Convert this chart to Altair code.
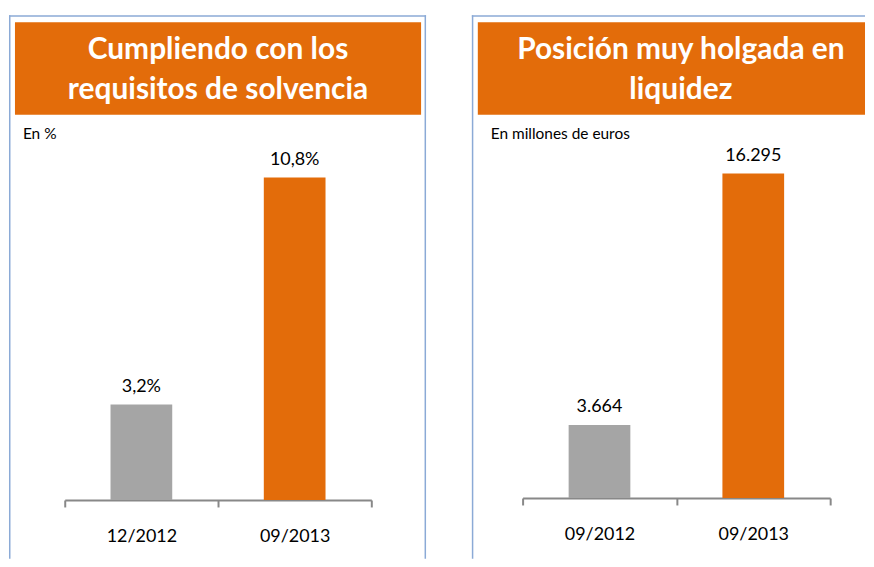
import altair as alt
import pandas as pd

# ---- data ----
left_categories = ["12/2012", "09/2013"]
left_values = [3.2, 10.8]
left_labels = ["3,2%", "10,8%"]

right_categories = ["09/2012", "09/2013"]
right_values = [3664, 16295]
right_labels = ["3.664", "16.295"]

left_title = ["Cumpliendo con los", "requisitos de solvencia"]
right_title = ["Posición muy holgada en", "liquidez"]
left_sub = "En %"
right_sub = "En millones de euros"

ORANGE = "#E36C0A"
GRAY = "#A5A5A5"
BLUE = "#8BAAD6"
FONT = "Lato"
one = pd.DataFrame({"k": [0]})


def panel(cats, vals, labels, title_lines, sub, W, H, box_x2, xrange, yrange, ydom,
          axis_offset, right_border):
    df = pd.DataFrame({"cat": cats, "val": vals, "lab": labels})
    layers = []
    # border
    layers.append(alt.Chart(one).mark_rule(color=BLUE, strokeWidth=1.5).encode(
        x=alt.value(0.75), y=alt.value(0), y2=alt.value(H)))
    layers.append(alt.Chart(one).mark_rule(color=BLUE, strokeWidth=1.5).encode(
        x=alt.value(0), x2=alt.value(W), y=alt.value(0.75)))
    if right_border:
        layers.append(alt.Chart(one).mark_rule(color=BLUE, strokeWidth=1.5).encode(
            x=alt.value(W - 0.75), y=alt.value(0), y2=alt.value(H)))
    # title box
    layers.append(alt.Chart(one).mark_rect(color=ORANGE).encode(
        x=alt.value(6), x2=alt.value(box_x2), y=alt.value(7), y2=alt.value(100)))
    for i, yy in enumerate([44, 84]):
        layers.append(alt.Chart(one).mark_text(
            font=FONT, fontSize=30, fontWeight="bold", color="white", align="center",
            baseline="alphabetic").encode(
            x=alt.value(210), y=alt.value(yy), text=alt.value(title_lines[i])))
    # subtitle
    layers.append(alt.Chart(one).mark_text(
        font=FONT, fontSize=15.5, color="black", align="left",
        baseline="alphabetic").encode(
        x=alt.value(sub[1]), y=alt.value(124), text=alt.value(sub[0])))

    xenc = alt.X("cat:N", sort=cats, title=None,
                 scale=alt.Scale(range=xrange, paddingInner=0, paddingOuter=0),
                 axis=alt.Axis(labelAngle=0, labelFont=FONT, labelFontSize=18,
                               labelColor="black", labelPadding=30,
                               labelBaseline="middle",
                               domainColor="#888888", domainWidth=2,
                               tickColor="#888888", tickWidth=2, tickSize=7,
                               tickBand="extent", offset=axis_offset,
                               grid=False))
    yenc = alt.Y("val:Q", axis=None,
                 scale=alt.Scale(domain=ydom, range=yrange, nice=False, zero=True))
    base = alt.Chart(df)
    layers.append(base.mark_bar(size=62).encode(
        x=xenc, y=yenc,
        color=alt.Color("cat:N", scale=alt.Scale(domain=cats, range=[GRAY, ORANGE]),
                        legend=None)))
    layers.append(base.mark_text(font=FONT, fontSize=18, color="black",
                                 baseline="alphabetic", dy=-13).encode(
        x=alt.X("cat:N", sort=cats), y=alt.Y("val:Q"), text="lab:N"))
    return alt.layer(*layers).properties(width=W, height=H)


H = 546
left = panel(left_categories, left_values, left_labels, left_title, (left_sub, 14),
             419, H, 414, [56, 364], [487, 187], [0, 10], 487 - H, True)
right = panel(right_categories, right_values, right_labels, right_title, (right_sub, 19),
              395, H, 395, [51, 360], [485, 285], [0, 10000], 485 - H, False)

chart = alt.hconcat(left, right, spacing=44).resolve_scale(
    x="independent", y="independent", color="independent"
).properties(
    padding={"top": 5, "left": 0, "right": 0, "bottom": 0}
).configure(background="white").configure_view(stroke=None)

chart.save("out.html", embed_options={"renderer": "svg", "actions": False})
